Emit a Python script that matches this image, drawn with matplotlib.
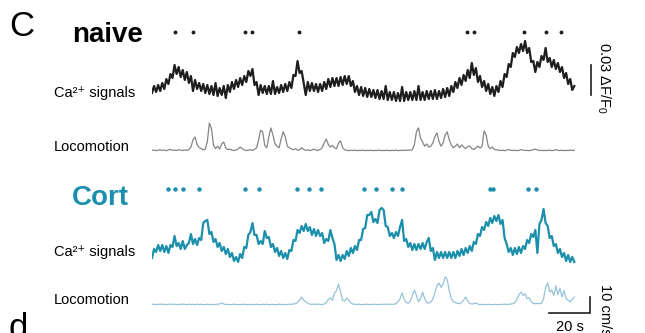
import numpy as np
import matplotlib
matplotlib.use("Agg")
import matplotlib.pyplot as plt

plt.rcParams['font.family'] = ['Liberation Sans', 'DejaVu Sans']
plt.rcParams['mathtext.fontset'] = 'custom'
plt.rcParams['mathtext.rm'] = 'Liberation Sans'
plt.rcParams['mathtext.it'] = 'Liberation Sans:italic'

# Ca2+ traces, 1 sample per second, values in thousandths of dF/F0
ca_naive = np.array([
    12, 19, 13, 20, 14, 22, 16, 26, 21, 31, 27, 40, 31, 38, 28, 35, 25, 33, 22, 29,
    14, 25, 16, 22, 14, 21, 12, 20, 11, 19, 10, 22, 9, 17, 10, 19, 7, 20, 13, 23,
    16, 25, 18, 27, 20, 29, 23, 34, 29, 36, 20, 23, 10, 20, 12, 19, 11, 19, 11, 24,
    11, 18, 12, 20, 13, 21, 14, 23, 17, 30, 29, 44, 32, 34, 22, 10, 23, 14, 22, 14,
    21, 13, 21, 14, 23, 16, 26, 18, 27, 19, 27, 19, 28, 20, 29, 21, 29, 19, 24, 13,
    19, 10, 18, 9, 17, 8, 16, 8, 15, 7, 15, 6, 14, 6, 19, 5, 13, 5, 13, 4,
    12, 4, 18, 4, 13, 5, 13, 5, 14, 5, 19, 5, 13, 5, 14, 6, 14, 6, 15, 6,
    14, 7, 16, 8, 17, 9, 19, 13, 23, 17, 27, 20, 30, 24, 35, 27, 42, 30, 37, 23,
    29, 18, 24, 14, 21, 11, 18, 9, 19, 13, 24, 18, 31, 28, 41, 38, 52, 48, 58, 52,
    61, 54, 64, 52, 57, 43, 44, 33, 43, 38, 49, 45, 57, 43, 47, 38, 45, 36, 42, 33,
    38, 27, 32, 21, 26, 15, 19]) / 1000

ca_cort = np.array([
    7, 16, 13, 20, 14, 20, 13, 19, 12, 20, 18, 29, 19, 22, 16, 24, 16, 20, 22, 31,
    21, 26, 20, 27, 25, 42, 44, 45, 31, 33, 23, 26, 18, 22, 14, 18, 11, 16, 8, 12,
    4, 8, 3, 11, 7, 18, 17, 30, 33, 42, 30, 30, 21, 24, 21, 34, 27, 28, 18, 21,
    13, 17, 9, 14, 7, 12, 6, 15, 14, 25, 24, 35, 32, 39, 34, 41, 34, 38, 30, 36,
    29, 35, 29, 32, 22, 26, 24, 35, 27, 21, 5, 10, 4, 10, 6, 14, 9, 17, 12, 19,
    15, 25, 25, 36, 37, 50, 50, 53, 43, 46, 42, 55, 57, 55, 39, 38, 29, 32, 27, 33,
    29, 38, 45, 24, 26, 18, 22, 15, 21, 15, 21, 16, 22, 16, 23, 27, 14, 17, 5, 13,
    7, 13, 7, 13, 7, 13, 7, 13, 7, 14, 9, 16, 10, 17, 12, 19, 14, 23, 21, 31,
    29, 38, 35, 43, 39, 47, 42, 49, 44, 50, 41, 45, 27, 21, 13, 17, 10, 17, 11, 18,
    12, 19, 16, 25, 22, 31, 28, 35, 12, 41, 45, 56, 42, 39, 27, 29, 19, 21, 12, 16,
    8, 12, 4, 10, 3, 8, 3]) / 1000

# locomotion speed, cm/s
loco_naive = np.array([
    0.3, 0.6, 0.2, 0.5, 0.8, 0.3, 0.6, 0.2, 0.7, 1.0, 0.4, 0.6, 0.3, 0.8, 0.5, 0.3, 0.6, 0.4, 0.9, 2.5,
    7.0, 8.8, 4.0, 2.2, 1.5, 0.6, 1.2, 6.0, 17.5, 14.0, 3.5, 1.5, 3.0, 1.2, 4.5, 5.6, 1.8, 0.8, 1.2, 0.5,
    0.3, 0.7, 1.2, 2.5, 1.5, 0.6, 0.3, 0.5, 0.8, 0.4, 1.0, 2.0, 7.0, 13.0, 12.0, 3.5, 2.0, 9.0, 14.4, 10.0,
    4.5, 3.0, 2.0, 7.5, 12.0, 9.0, 3.0, 2.0, 1.2, 0.8, 1.5, 0.5, 0.8, 2.0, 1.0, 0.4, 0.7, 0.3, 0.6, 1.2,
    0.5, 0.4, 1.0, 2.0, 5.0, 7.5, 4.0, 2.5, 3.5, 2.0, 1.5, 5.0, 6.3, 2.0, 0.8, 0.4, 0.2, 0.5, 0.3, 0.6,
    0.2, 0.4, 0.3, 0.6, 0.2, 0.4, 0.3, 0.5, 0.2, 0.4, 0.3, 0.6, 0.2, 0.4, 0.3, 0.5, 0.2, 0.4, 0.3, 0.6,
    0.2, 0.4, 0.3, 0.5, 0.4, 0.6, 0.5, 0.8, 4.0, 12.0, 14.4, 8.0, 5.6, 3.0, 4.4, 2.5, 3.0, 5.0, 9.0, 11.3,
    6.0, 3.0, 5.0, 10.0, 12.0, 7.0, 3.8, 2.0, 3.0, 4.4, 2.0, 3.8, 2.5, 1.5, 2.8, 3.1, 1.5, 1.0, 2.0, 3.1,
    1.8, 3.0, 12.5, 10.0, 3.0, 1.5, 2.5, 1.0, 0.8, 0.5, 0.3, 0.5, 0.2, 0.6, 1.0, 0.4, 0.3, 0.5, 0.2, 0.4,
    0.9, 0.5, 0.3, 0.4, 0.2, 0.5, 0.8, 1.2, 0.6, 0.3, 0.5, 0.2, 0.4, 0.3, 0.6, 0.2, 0.4, 0.8, 0.4, 0.3,
    0.5, 0.2, 0.4, 0.3, 0.6, 0.3, 0.5])

loco_cort = np.array([
    0.3, 0.5, 0.2, 0.4, 0.6, 0.3, 0.5, 0.2, 0.4, 0.6, 0.3, 0.5, 0.2, 0.4, 0.3, 0.6, 0.4, 0.2, 0.5, 0.3,
    0.4, 0.2, 0.5, 0.3, 0.4, 0.2, 0.3, 0.5, 0.3, 0.2, 0.4, 0.3, 0.5, 0.7, 1.3, 0.6, 0.3, 0.4, 0.2, 0.3,
    0.5, 0.3, 0.2, 0.4, 0.3, 0.5, 0.2, 0.3, 0.4, 0.2, 0.3, 0.5, 0.3, 0.2, 0.4, 0.3, 0.5, 0.2, 0.3, 0.4,
    0.2, 0.3, 0.5, 0.3, 0.4, 0.2, 0.3, 0.5, 0.4, 0.6, 0.9, 1.5, 3.0, 5.0, 3.0, 2.0, 1.0, 0.6, 0.4, 0.6,
    0.3, 0.5, 0.4, 0.3, 0.6, 1.5, 3.5, 4.4, 3.0, 7.5, 9.0, 13.0, 8.0, 3.0, 2.5, 4.4, 3.0, 1.2, 0.6, 0.4,
    0.3, 0.5, 0.2, 0.4, 0.3, 0.5, 0.2, 0.4, 0.3, 0.5, 0.2, 0.4, 0.3, 0.5, 0.4, 0.6, 0.3, 0.5, 0.4, 0.8,
    2.0, 3.8, 7.5, 3.5, 1.5, 1.2, 2.5, 6.0, 9.4, 6.0, 2.0, 4.0, 8.0, 4.0, 1.5, 1.2, 2.0, 3.5, 8.0, 12.0,
    13.8, 11.0, 13.0, 17.5, 16.0, 9.0, 4.0, 2.0, 1.5, 1.0, 0.8, 1.5, 3.0, 5.0, 2.5, 1.0, 0.6, 0.8, 1.3, 0.5,
    0.3, 0.4, 0.3, 0.2, 0.4, 0.3, 0.2, 0.4, 0.3, 0.2, 0.4, 0.3, 0.5, 0.3, 0.4, 0.6, 0.8, 1.5, 3.5, 6.5,
    8.0, 6.0, 7.0, 4.0, 4.5, 2.0, 1.0, 0.8, 1.0, 0.8, 1.0, 4.0, 11.0, 13.8, 8.0, 9.4, 6.0, 11.9, 6.5, 10.5,
    5.0, 9.0, 4.0, 3.0, 2.0, 3.5, 5.0])

# event times (s)
events_naive = [11.2, 20.0, 45.4, 48.8, 71.7, 153.7, 157.1, 181.5, 192.2, 199.5]
events_cort = [7.8, 11.2, 15.1, 22.9, 45.4, 52.2, 70.7, 76.6, 82.4, 103.4, 109.3,
               117.1, 122.0, 164.9, 166.3, 183.4, 187.3]

t = np.arange(len(ca_naive))

teal = '#1b8fab'
light = '#97c3d8'
grey = '#858585'
dark = '#1e1e1e'
bar_c = '#231f20'

W, H = 645, 333
fig = plt.figure(figsize=(W / 100, H / 100), dpi=100)

x0, px_per_s = 152, 2.05
t_max = 207


def add_ax(top, bottom, ylim):
    ax = fig.add_axes([x0 / W, 1 - bottom / H, t_max * px_per_s / W, (bottom - top) / H])
    ax.set_xlim(0, t_max)
    ax.set_ylim(*ylim)
    ax.axis('off')
    ax.patch.set_alpha(0)
    return ax


ax_ev1 = add_ax(27, 37, (0, 1))
ax_ca1 = add_ax(30, 110, (-0.005, 0.075))
ax_lo1 = add_ax(115, 155, (-2.5, 22.5))
ax_ev2 = add_ax(184, 194, (0, 1))
ax_ca2 = add_ax(195, 270, (-0.005, 0.070))
ax_lo2 = add_ax(265, 320, (-9.375, 25))

ax_ev1.plot(events_naive, [0.5] * len(events_naive), 'o', color=dark, ms=2.8, mew=0)
ax_ev2.plot(events_cort, [0.5] * len(events_cort), 'o', color=teal, ms=3.2, mew=0)

ax_ca1.plot(t, ca_naive, color=dark, lw=1.6)
ax_lo1.plot(t, loco_naive, color=grey, lw=0.9)
ax_ca2.plot(t, ca_cort, color=teal, lw=1.6)
ax_lo2.plot(t, loco_cort, color=light, lw=0.9)

# scale bars
bar_t = 20
bar_dff = 0.03
bar_speed = 10
tb_end = 213.7
ax_ca1.plot([214.1, 214.1], [0.010, 0.010 + bar_dff], color=bar_c, lw=1.2, clip_on=False)
ax_lo2.plot([tb_end - bar_t, tb_end, tb_end], [-bar_speed / 2, -bar_speed / 2, bar_speed / 2],
            color=bar_c, lw=1.2, clip_on=False, solid_joinstyle='miter')


def ftext(x, y, s, **kw):
    fig.text(x / W, 1 - y / H, s, **kw)


ftext(9, 10, 'C', fontsize=25, va='top', ha='left')
ftext(9, 312, 'd', fontsize=25, va='top', ha='left')
ftext(72, 42, 'naive', fontsize=20, fontweight='bold', va='baseline', ha='left')
ftext(72, 205, 'Cort', fontsize=20, fontweight='bold', color=teal, va='baseline', ha='left')

for y, s in [(93, 'Ca²⁺ signals'), (147, 'Locomotion'),
             (252, 'Ca²⁺ signals'), (300, 'Locomotion')]:
    ftext(54, y, s, fontsize=10.5, va='center', ha='left')

ftext(604, 78, r'0.03 $\Delta$F/F$_0$', fontsize=10.5, rotation=270, va='center', ha='center')
ftext(605, 284, '10 cm/s', fontsize=10.5, rotation=270, va='top', ha='center')
ftext(570, 320, '20 s', fontsize=10.5, va='top', ha='center')

fig.savefig('out.png', dpi=100)
